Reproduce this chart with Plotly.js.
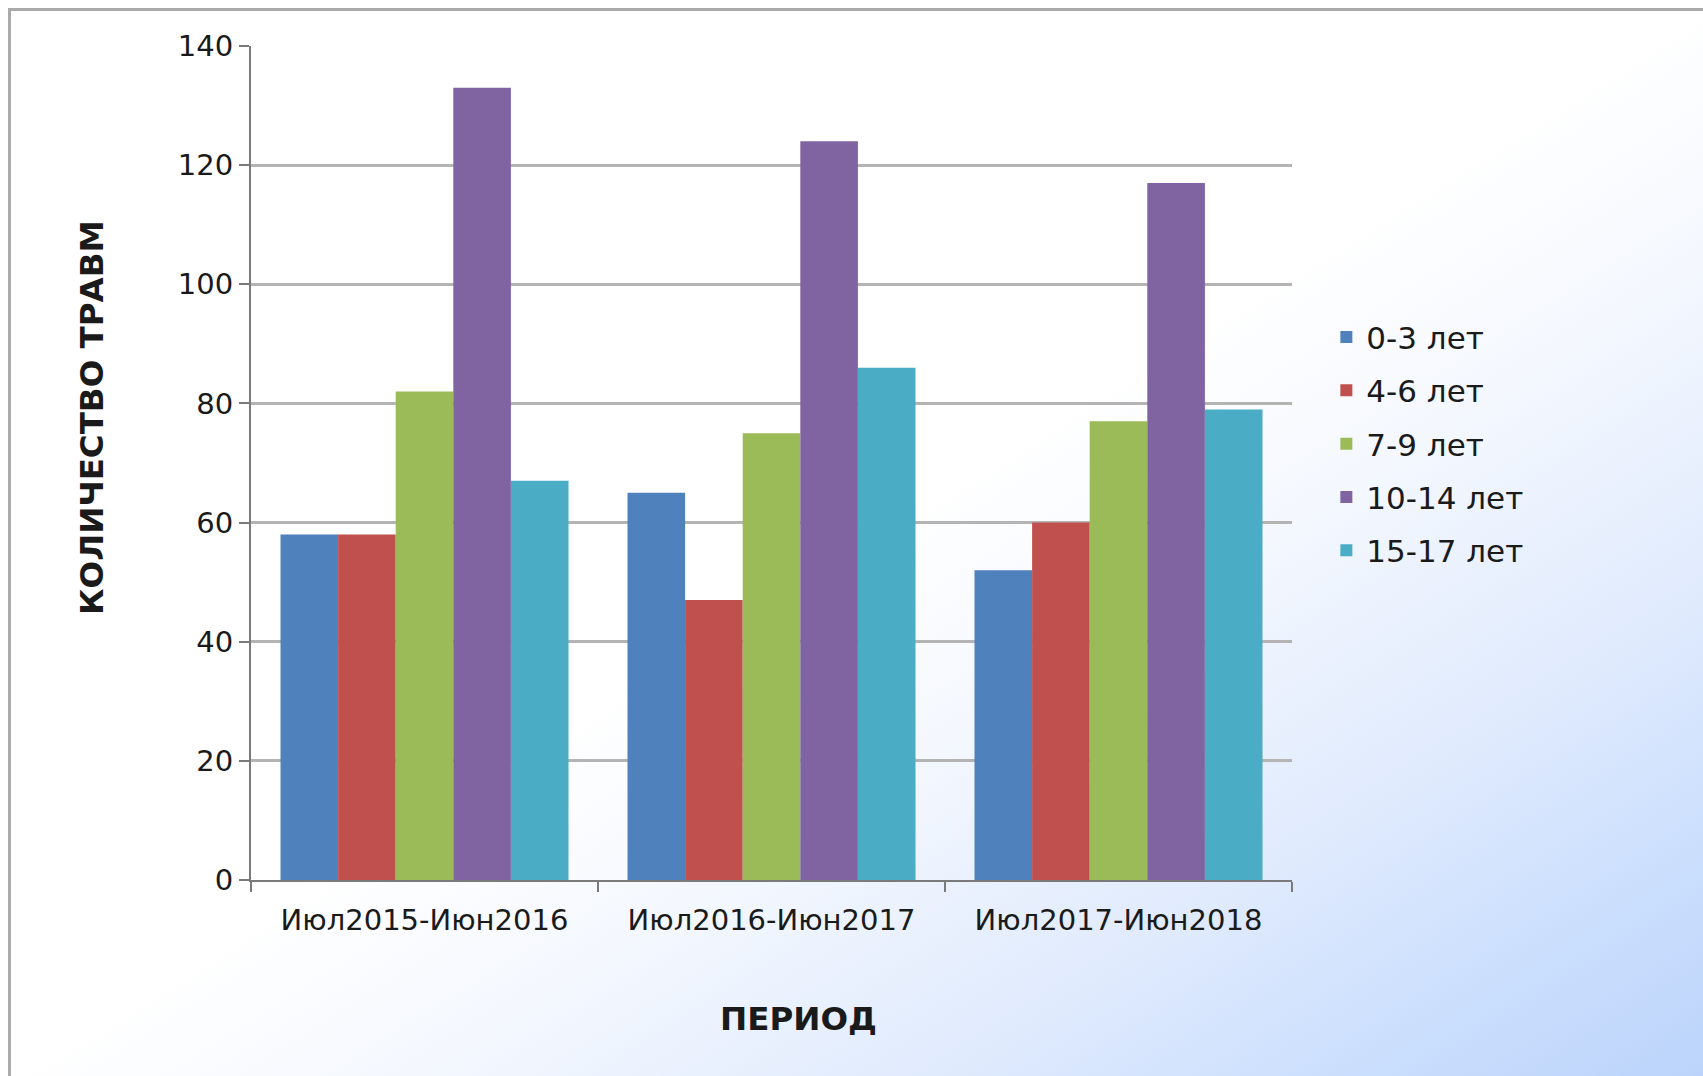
<!DOCTYPE html>
<html>
<head>
<meta charset="utf-8">
<script src="https://cdn.plot.ly/plotly-3.0.1.min.js"></script>
<style>
  html, body { margin: 0; padding: 0; }
  #wrap {
    position: relative; width: 1703px; height: 1076px; overflow: hidden;
    background: linear-gradient(to bottom right, #ffffff 0%, #ffffff 50%, #f3f7fe 63%, #dfeafd 78%, #cde0fd 88%, #bcd4fb 100%);
  }
  #bt { position: absolute; left: 9px; top: 8px; width: 1694px; height: 3px; background: #aaaaaa; }
  #bl { position: absolute; left: 8px; top: 8px; width: 3px; height: 1068px; background: #aaaaaa; }
  #chart { position: absolute; left: 0; top: 0; width: 1703px; height: 1076px; }
</style>
</head>
<body>
<div id="wrap">
  <div id="bt"></div>
  <div id="bl"></div>
  <div id="chart"></div>
</div>
<script>
const periods = ["Июл2015-Июн2016", "Июл2016-Июн2017", "Июл2017-Июн2018"];
const seriesNames = ["0-3 лет", "4-6 лет", "7-9 лет", "10-14 лет", "15-17 лет"];
const age0_3 = [58, 65, 52];
const age4_6 = [58, 47, 60];
const age7_9 = [82, 75, 77];
const age10_14 = [133, 124, 117];
const age15_17 = [67, 86, 79];
const colors = ["#4F81BD", "#C0504D", "#9BBB59", "#8064A2", "#4BACC6"];
const yTickVals = [0, 20, 40, 60, 80, 100, 120, 140];

const values = [age0_3, age4_6, age7_9, age10_14, age15_17];
const traces = values.map((v, i) => ({
  type: "bar",
  name: seriesNames[i],
  x: periods,
  y: v,
  legendgroup: "g" + i,
  marker: { color: colors[i], line: { width: 0 } },
  hoverinfo: "x+y+name"
}));

const font = "DejaVu Sans, Verdana, sans-serif";
const layout = {
  width: 1703, height: 1076,
  margin: { l: 251, r: 411, t: 46, b: 196 },
  paper_bgcolor: "rgba(0,0,0,0)",
  plot_bgcolor: "rgba(0,0,0,0)",
  barmode: "group",
  bargap: 0.17,
  bargroupgap: 0,
  font: { family: font, size: 29, color: "#1a1a1a" },
  xaxis: {
    type: "category",
    tickson: "boundaries",
    ticks: "outside", ticklen: 10, tickwidth: 2, tickcolor: "#7a7a7a",
    showline: true, linecolor: "#7a7a7a", linewidth: 2,
    showgrid: false,
    ticklabelstandoff: 13,
    tickfont: { family: font, size: 29, color: "#1a1a1a" },
    fixedrange: true
  },
  yaxis: {
    range: [0, 140],
    tickvals: yTickVals,
    ticktext: yTickVals.map(String),
    ticks: "outside", ticklen: 10, tickwidth: 2, tickcolor: "#7a7a7a",
    showline: true, linecolor: "#7a7a7a", linewidth: 2,
    showgrid: true, gridcolor: "#b4b4b4", gridwidth: 2.5,
    zeroline: false,
    tickfont: { family: font, size: 29, color: "#1a1a1a" },
    fixedrange: true
  },
  legend: {
    x: 1.033, xanchor: "left",
    y: 0.683, yanchor: "top",
    bgcolor: "rgba(0,0,0,0)",
    font: { family: font, size: 31, color: "#1a1a1a" },
    tracegroupgap: 10,
    traceorder: "grouped"
  },
  annotations: [
    {
      text: "<b>КОЛИЧЕСТВО ТРАВМ</b>",
      xref: "paper", yref: "paper",
      x: (92 - 251) / 1041, y: (880 - 418) / 834,
      xanchor: "center", yanchor: "middle",
      textangle: -90, showarrow: false,
      font: { family: font, size: 32.5, color: "#1a1a1a" }
    },
    {
      text: "<b>ПЕРИОД</b>",
      xref: "paper", yref: "paper",
      x: (798 - 251) / 1041, y: (880 - 1019) / 834,
      xanchor: "center", yanchor: "middle",
      showarrow: false,
      font: { family: font, size: 32.5, color: "#1a1a1a" }
    }
  ]
};

Plotly.newPlot("chart", traces, layout, { displayModeBar: false });
</script>
</body>
</html>
